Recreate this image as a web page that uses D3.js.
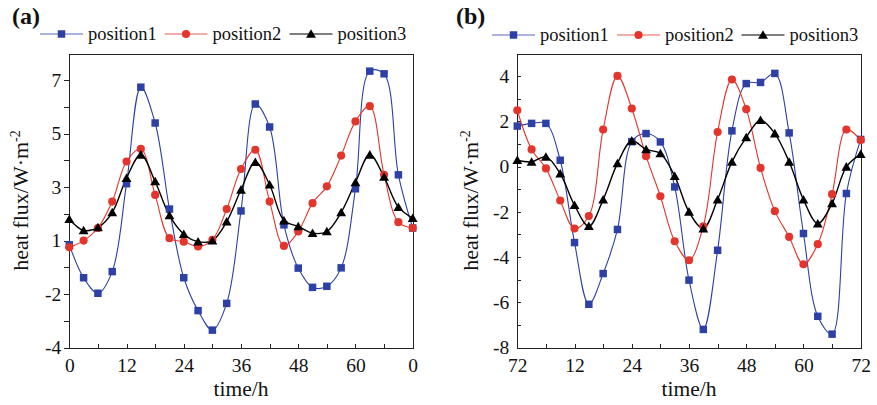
<!DOCTYPE html>
<html lang="en">
	<head>
		<meta charset="utf-8">
		<title>heat flux</title>
		<script type="text/javascript" src="https://cdn.jsdelivr.net/npm/d3@7"></script>
		<style>
			body { margin: 0; background: #fff; }
			svg text { font-family: "Liberation Serif", "Times New Roman", Times, serif; fill: #111; }
			.axis path, .axis line { fill: none; stroke: #222; stroke-width: 1px; shape-rendering: crispEdges; }
		</style>
	</head>
	<body>
		<script type="text/javascript">

			var w = 877;
			var h = 405;

			// time of each marker (h)
			var hours = [0,3,6,9,12,15,18,21,24,27,30,33,36,39,42,45,48,51,54,57,60,63,66,69,72];

			// panel (a) values (in plot units, see tick labels below)
			var aPos1 = [0.84,-0.39,-0.97,-0.16,3.13,6.74,5.40,2.18,-0.39,-1.62,-2.35,-1.35,2.11,6.11,5.25,1.59,-0.03,-0.75,-0.71,-0.02,2.94,7.34,7.24,3.46,1.47];
			var aPos2 = [0.75,1.00,1.47,2.46,3.96,4.43,2.71,1.09,0.96,0.78,1.03,2.18,3.68,4.40,2.46,0.80,1.34,2.40,3.03,4.18,5.46,6.03,3.46,1.69,1.47];
			var aPos3 = [1.80,1.38,1.49,2.05,3.34,4.21,3.21,1.94,1.24,0.96,1.00,1.71,2.90,3.93,3.09,1.75,1.53,1.28,1.34,2.05,3.18,4.21,3.38,2.25,1.84];

			// panel (b) values
			var bPos1 = [1.79,1.91,1.91,0.28,-3.36,-6.09,-4.73,-2.78,1.10,1.46,1.09,-0.90,-5.02,-7.20,-3.70,1.58,3.67,3.72,4.12,1.49,-2.96,-6.62,-7.41,-1.19,1.20];
			var bPos2 = [2.49,0.76,-0.08,-1.50,-2.74,-2.19,1.64,4.01,2.57,0.46,-1.31,-3.30,-4.14,-2.64,1.53,3.85,2.54,-0.06,-1.97,-3.11,-4.32,-3.43,-1.22,1.64,1.17];
			var bPos3 = [0.28,0.21,0.43,-0.31,-1.71,-2.64,-1.46,0.14,1.14,0.76,0.58,-0.42,-2.00,-2.74,-1.46,0.21,1.29,2.05,1.46,0.21,-1.46,-2.52,-1.63,-0.01,0.55];

			var seriesNames = ["position1", "position2", "position3"];

			// tick values and the labels printed at them
			var xTicks = [0,6,12,18,24,30,36,42,48,54,60,66,72];
			var xLabelsA = {0:"0", 12:"12", 24:"24", 36:"36", 48:"48", 60:"60", 72:"0"};
			var xLabelsB = {0:"72", 12:"12", 24:"24", 36:"36", 48:"48", 60:"60", 72:"72"};
			var yTicksA = [-3,-2,-1,0,1,2,3,4,5,6,7];
			var yLabelsA = {7:"7", 5:"5", 3:"3", 1:"1", "-1":"-2", "-3":"-4"};
			var yTicksB = [-8,-7,-6,-5,-4,-3,-2,-1,0,1,2,3,4];
			var yLabelsB = {4:"4", 2:"2", 0:"0", "-2":"-2", "-4":"-4", "-6":"-6", "-8":"-8"};

			var colors = ["#2d40a6", "#e4352c", "#000000"];
			var symbols = [d3.symbolSquare, d3.symbolCircle, d3.symbolTriangle];
			var symbolSizes = [56, 52, 42];
			var lineWidths = [1.1, 1.1, 1.4];

			var svg = d3.select("body")
				.append("svg")
				.attr("width", w)
				.attr("height", h);

			function drawPanel(p) {
				var xScale = d3.scaleLinear().domain([0, 72]).range([p.left, p.right]);
				var yScale = d3.scaleLinear().domain(p.yDomain).range([p.bottom, p.top]);

				var g = svg.append("g");

				// frame (top and right)
				g.append("rect")
					.attr("x", p.left + 0.5)
					.attr("y", p.top + 0.5)
					.attr("width", p.right - p.left)
					.attr("height", p.bottom - p.top)
					.attr("fill", "none")
					.attr("stroke", "#222")
					.attr("stroke-width", 1)
					.attr("shape-rendering", "crispEdges");

				var xAxis = d3.axisBottom(xScale)
					.tickValues(xTicks)
					.tickSizeInner(-4)
					.tickSizeOuter(0)
					.tickPadding(11)
					.tickFormat(function(d){ return p.xLabels[d] || ""; });

				var xg = g.append("g")
					.attr("class", "axis")
					.attr("transform", "translate(0," + p.bottom + ")")
					.call(xAxis);
				xg.selectAll("text").style("font-size", "19.5px");

				var yAxis = d3.axisLeft(yScale)
					.tickValues(p.yTicks)
					.tickSizeInner(p.yTickSize)
					.tickSizeOuter(0)
					.tickPadding(p.yTickPad)
					.tickFormat(function(d){ return p.yLabels[d] || ""; });

				var yg = g.append("g")
					.attr("class", "axis")
					.attr("transform", "translate(" + p.left + ",0)")
					.call(yAxis);
				yg.selectAll("text").style("font-size", "19.5px");

				// axis titles
				g.append("text")
					.attr("x", (p.left + p.right) / 2)
					.attr("y", 395.5)
					.attr("text-anchor", "middle")
					.style("font-size", "21.5px")
					.text("time/h");

				var yt = g.append("text")
					.attr("transform", "translate(" + p.yTitleX + "," + ((p.top + p.bottom) / 2) + ") rotate(-90)")
					.attr("text-anchor", "middle")
					.style("font-size", "22px");
				yt.append("tspan").text("heat flux/W\u00b7m");
				yt.append("tspan").attr("dy", -8).style("font-size", "14px").text("-2");

				// panel letter
				g.append("text")
					.attr("x", p.letterX)
					.attr("y", 24)
					.style("font-size", "24px")
					.style("font-weight", "bold")
					.text(p.letter);

				// series
				var line = d3.line()
					.curve(d3.curveCatmullRom.alpha(0.5))
					.x(function(d){ return xScale(d[0]); })
					.y(function(d){ return yScale(d[1]); });

				p.series.forEach(function(vals, i) {
					var pts = hours.map(function(t, k){ return [t, vals[k]]; });
					g.append("path")
						.datum(pts)
						.attr("fill", "none")
						.attr("stroke", colors[i])
						.attr("stroke-width", lineWidths[i])
						.attr("d", line);
				});
				p.series.forEach(function(vals, i) {
					var pts = hours.map(function(t, k){ return [t, vals[k]]; });
					g.selectAll(".m" + i)
						.data(pts)
						.enter()
						.append("path")
						.attr("class", "m" + i)
						.attr("transform", function(d){ return "translate(" + xScale(d[0]) + "," + (yScale(d[1]) + (i == 2 ? 1 : 0)) + ")"; })
						.attr("d", d3.symbol().type(symbols[i]).size(symbolSizes[i]))
						.attr("fill", colors[i]);
				});

				// legend
				var lg = g.append("g");
				p.legendX.forEach(function(lx, i) {
					lg.append("line")
						.attr("x1", lx).attr("x2", lx + 43)
						.attr("y1", p.legendY).attr("y2", p.legendY)
						.attr("stroke", colors[i])
						.attr("stroke-opacity", i == 2 ? 1 : 0.8)
						.attr("stroke-width", 1.1);
					lg.append("path")
						.attr("transform", "translate(" + (lx + 21.5) + "," + (p.legendY + (i == 2 ? 1 : 0)) + ")")
						.attr("d", d3.symbol().type(symbols[i]).size(symbolSizes[i]))
						.attr("fill", colors[i]);
					lg.append("text")
						.attr("x", lx + 48)
						.attr("y", p.legendY + 6)
						.style("font-size", "18.5px")
						.text(seriesNames[i]);
				});
			}

			drawPanel({
				left: 69.3, right: 412.7, top: 53.5, bottom: 347.5,
				yDomain: [-3, 8],
				yTicks: yTicksA, yLabels: yLabelsA, yTickSize: 5, yTickPad: 3,
				xLabels: xLabelsA,
				yTitleX: 28,
				letter: "(a)", letterX: 12,
				legendX: [40, 164.5, 289.5], legendY: 34,
				series: [aPos1, aPos2, aPos3]
			});

			drawPanel({
				left: 517.3, right: 860.7, top: 53.5, bottom: 347.5,
				yDomain: [-8, 5],
				yTicks: yTicksB, yLabels: yLabelsB, yTickSize: -4, yTickPad: 8,
				xLabels: xLabelsB,
				yTitleX: 478,
				letter: "(b)", letterX: 456,
				legendX: [492, 617, 741.5], legendY: 35,
				series: [bPos1, bPos2, bPos3]
			});

		</script>
	</body>
</html>
